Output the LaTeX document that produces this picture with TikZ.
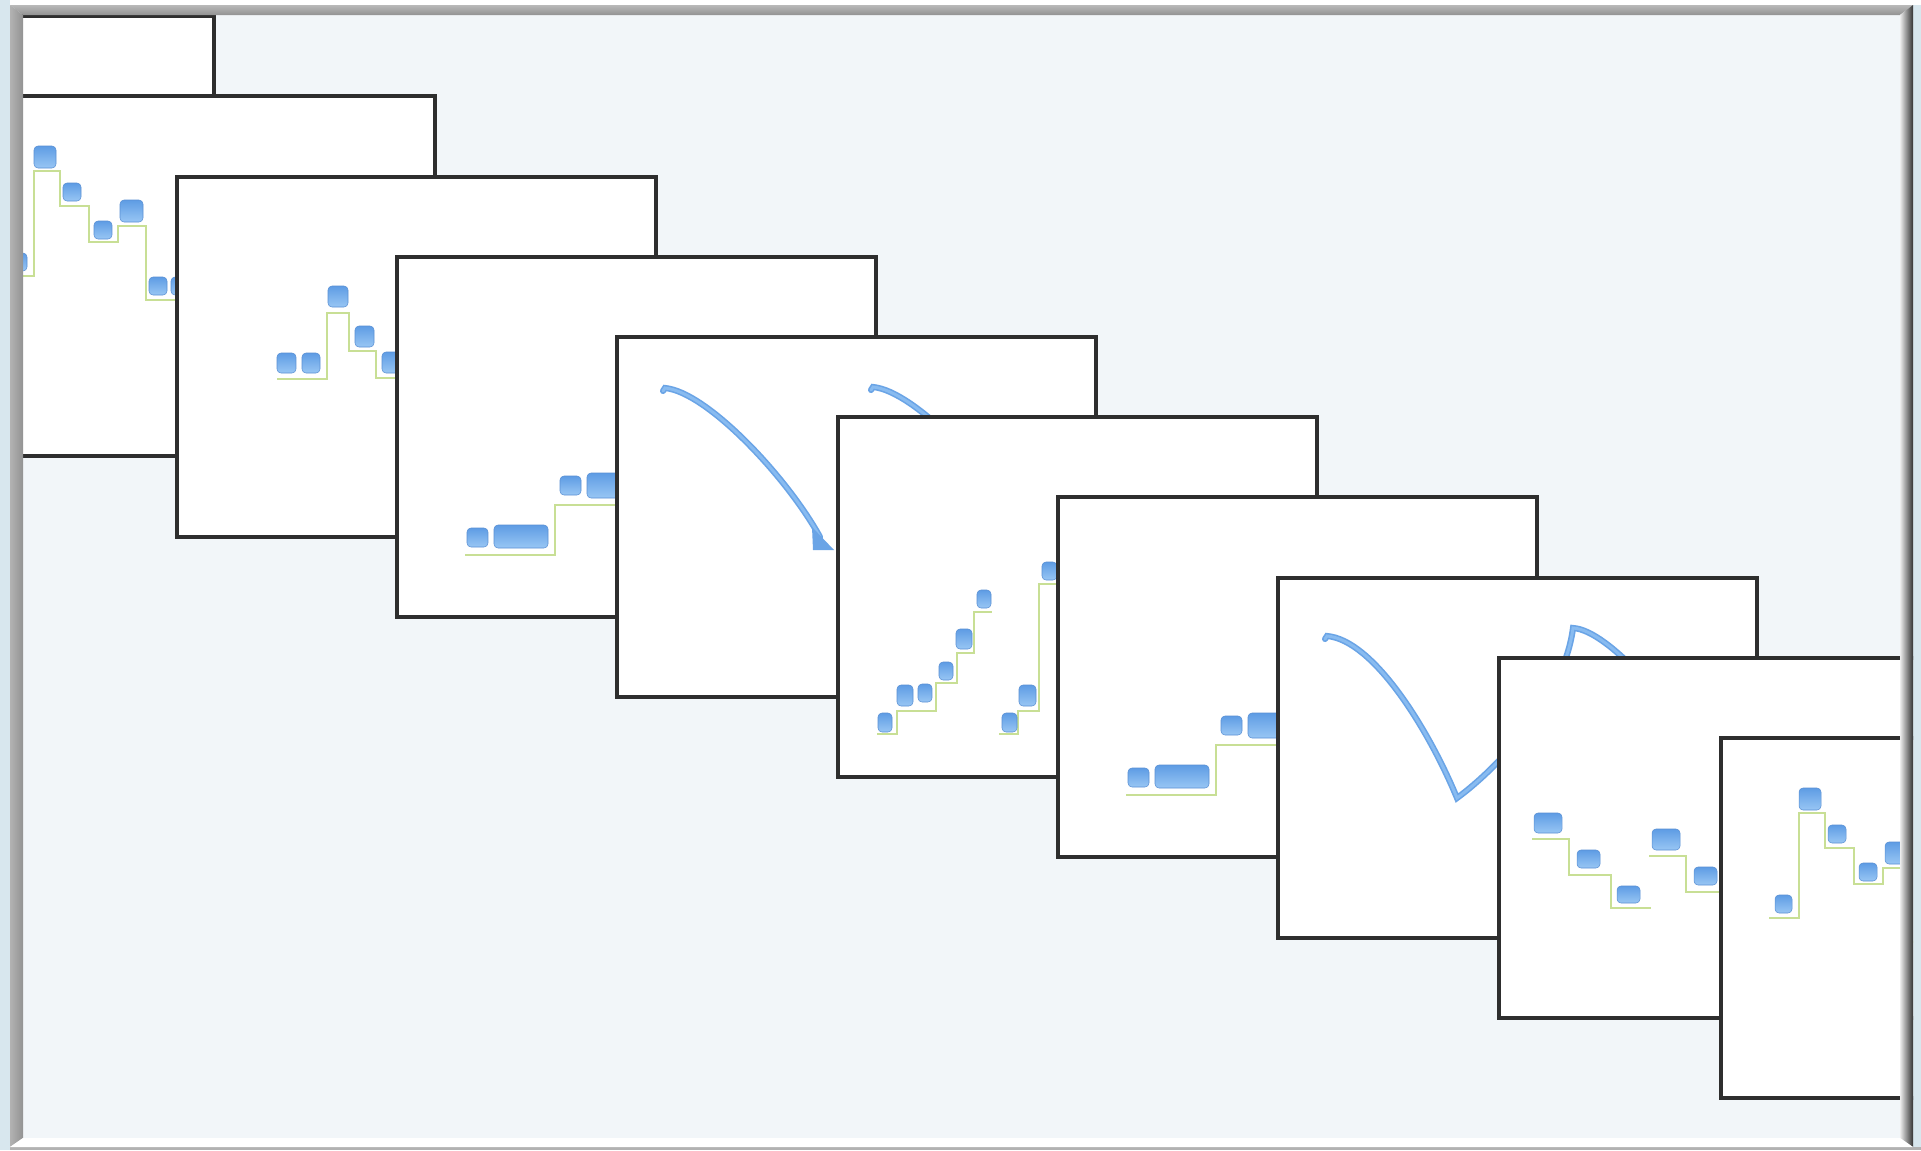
\documentclass[tikz,border=0pt]{standalone}
\usepackage{tikz}
\usetikzlibrary{calc}

\definecolor{outerback}{HTML}{D8E7EE}
\definecolor{paneback}{HTML}{F2F6F9}
\definecolor{slideedge}{HTML}{2E2E2E}
\definecolor{notetop}{HTML}{5E9CE4}
\definecolor{notebottom}{HTML}{98C6F4}
\definecolor{noteedge}{HTML}{5A90D4}
\definecolor{trackgreen}{HTML}{C8DF95}
\definecolor{swoopblue}{HTML}{6AA4E6}
\definecolor{swoopcore}{HTML}{88BBF0}

\tikzset{
  slidebox/.style={draw=slideedge, fill=white, line width=2.5pt},
  note/.style={draw=noteedge, line width=0.4pt, top color=notetop, bottom color=notebottom, rounded corners=3pt},
  track/.style={draw=trackgreen, line width=1pt},
  swoop/.style={draw=swoopblue, line width=4.6pt, line cap=round,
    postaction={draw=swoopcore, line width=2.2pt}},
}

\begin{document}
\begin{tikzpicture}[x=0.75pt,y=0.75pt,yscale=-1,xscale=1]
\useasboundingbox (0,0) rectangle (1921,1150);

%Background
\fill[outerback] (0,0) rectangle (1921,1150);
\fill[white] (10,0) rectangle (1921,5);
\fill[gray!60] (10,1147) rectangle (1921,1150);
\fill[paneback] (10,5) rectangle (1913,1147);

\begin{scope}
\clip (10,5) rectangle (1913,1147);

%Slide 1
\begin{scope}[shift={(-265,16)}]
\draw[slidebox] (0,0) rectangle (479,360);
\end{scope}

%Slide 2
\begin{scope}[shift={(-44,96)}]
\draw[slidebox] (0,0) rectangle (479,360);
\draw[track] (48,180) -- (78,180) -- (78,75) -- (104,75) -- (104,110) -- (133,110) -- (133,146) -- (162,146) -- (162,130) -- (190,130) -- (190,204) -- (225,204);
\draw[note] (54,157) rectangle (71,175);
\draw[note] (78,50) rectangle (100,72);
\draw[note] (107,87) rectangle (125,105);
\draw[note] (138,125) rectangle (156,143);
\draw[note] (164,104) rectangle (187,126);
\draw[note] (193,181) rectangle (211,199);
\draw[note] (215,181) rectangle (233,199);
\end{scope}

%Slide 3
\begin{scope}[shift={(177,177)}]
\draw[slidebox] (0,0) rectangle (479,360);
\draw[track] (100,202) -- (150,202) -- (150,136) -- (172,136) -- (172,174) -- (199,174) -- (199,201) -- (225,201);
\draw[note] (100,176) rectangle (119,196);
\draw[note] (125,176) rectangle (143,196);
\draw[note] (151,109) rectangle (171,130);
\draw[note] (178,149) rectangle (197,170);
\draw[note] (205,175) rectangle (224,196);
\end{scope}

%Slide 4
\begin{scope}[shift={(397,257)}]
\draw[slidebox] (0,0) rectangle (479,360);
\draw[track] (68,298) -- (158,298) -- (158,248) -- (225,248);
\draw[note] (70,271) rectangle (91,290);
\draw[note] (97,268) rectangle (151,291);
\draw[note] (163,219) rectangle (184,238);
\draw[note] (190,216) rectangle (244,241);
\end{scope}

%Slide 5
\begin{scope}[shift={(617,337)}]
\draw[slidebox] (0,0) rectangle (479,360);
\draw[swoop] (46,54) -- (48,51) .. controls (90,55) and (170,140) .. (203,200);
\fill[swoopblue] (195,190) -- (196,213) -- (217,213) -- cycle;
\draw[swoop] (254,53) -- (256,50) .. controls (298,54) and (378,139) .. (411,199);
\end{scope}

%Slide 6
\begin{scope}[shift={(838,417)}]
\draw[slidebox] (0,0) rectangle (479,360);
\draw[track] (39,317) -- (59,317) -- (59,294) -- (98,294) -- (98,266) -- (119,266) -- (119,236) -- (136,236) -- (136,195) -- (154,195);
\draw[track] (161,317) -- (180,317) -- (180,294) -- (201,294) -- (201,167) -- (225,167);
\draw[note] (40,296) rectangle (54,315);
\draw[note] (59,268) rectangle (75,289);
\draw[note] (80,267) rectangle (94,285);
\draw[note] (101,245) rectangle (115,263);
\draw[note] (118,212) rectangle (134,232);
\draw[note] (139,173) rectangle (153,191);
\draw[note] (164,296) rectangle (179,315);
\draw[note] (181,268) rectangle (198,289);
\draw[note] (204,145) rectangle (219,163);
\end{scope}

%Slide 7
\begin{scope}[shift={(1058,497)}]
\draw[slidebox] (0,0) rectangle (479,360);
\draw[track] (68,298) -- (158,298) -- (158,248) -- (225,248);
\draw[note] (70,271) rectangle (91,290);
\draw[note] (97,268) rectangle (151,291);
\draw[note] (163,219) rectangle (184,238);
\draw[note] (190,216) rectangle (244,241);
\end{scope}

%Slide 8
\begin{scope}[shift={(1278,578)}]
\draw[slidebox] (0,0) rectangle (479,360);
\draw[swoop] (47,61) -- (49,58) .. controls (95,62) and (150,150) .. (179,220) .. controls (220,190) and (286,120) .. (295,50) .. controls (330,52) and (400,130) .. (440,210);
\end{scope}

%Slide 9
\begin{scope}[shift={(1499,658)}]
\draw[slidebox] (0,0) rectangle (479,360);
\draw[track] (33,181) -- (70,181) -- (70,217) -- (112,217) -- (112,250) -- (152,250);
\draw[track] (150,198) -- (187,198) -- (187,234) -- (225,234);
\draw[note] (35,155) rectangle (63,175);
\draw[note] (78,192) rectangle (101,210);
\draw[note] (118,228) rectangle (141,245);
\draw[note] (153,171) rectangle (181,192);
\draw[note] (195,209) rectangle (218,227);
\end{scope}

%Slide 10
\begin{scope}[shift={(1721,738)}]
\draw[slidebox] (0,0) rectangle (479,360);
\draw[track] (48,180) -- (78,180) -- (78,75) -- (104,75) -- (104,110) -- (133,110) -- (133,146) -- (162,146) -- (162,130) -- (190,130) -- (190,204) -- (225,204);
\draw[note] (54,157) rectangle (71,175);
\draw[note] (78,50) rectangle (100,72);
\draw[note] (107,87) rectangle (125,105);
\draw[note] (138,125) rectangle (156,143);
\draw[note] (164,104) rectangle (187,126);
\end{scope}
\end{scope}

%Frame bevel
\shade[top color=gray!55, middle color=white, bottom color=gray!85] (10,5) -- (1913,5) -- (1900,15) -- (23,15) -- cycle;
\shade[left color=gray!60, middle color=gray!25, right color=gray!85] (10,5) -- (23,15) -- (23,1138) -- (10,1147) -- cycle;
\shade[left color=gray!15, right color=black!80] (1913,5) -- (1900,15) -- (1900,1138) -- (1913,1147) -- cycle;
\fill[white] (10,1147) -- (23,1138) -- (1900,1138) -- (1913,1147) -- cycle;

\end{tikzpicture}
\end{document}
